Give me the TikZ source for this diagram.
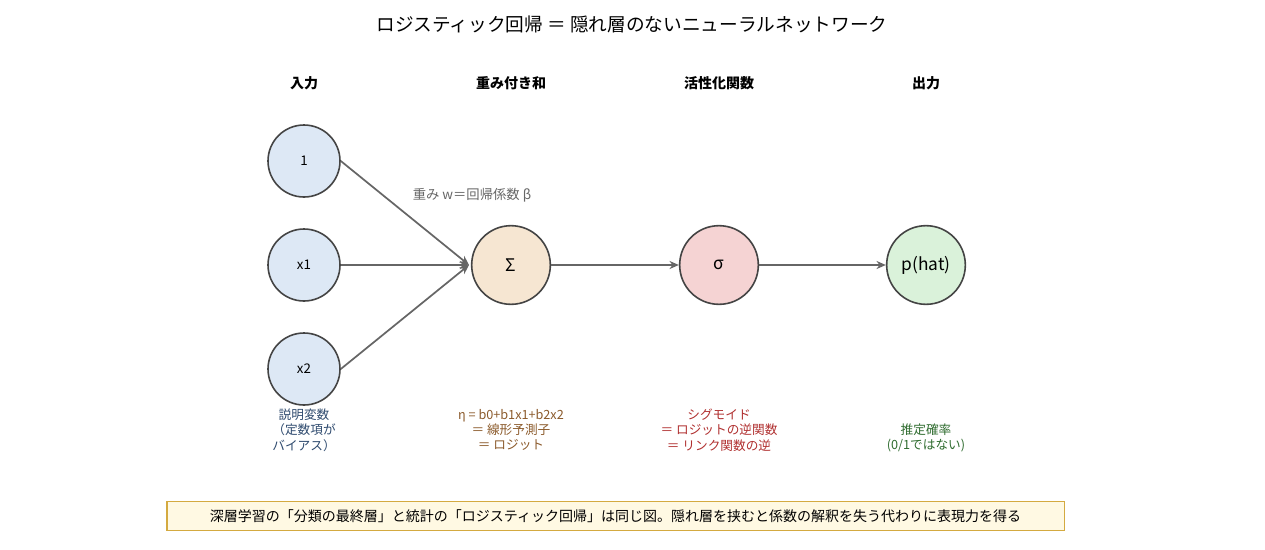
\documentclass[tikz,border=0pt]{standalone}
\usepackage{fontspec}
\setmainfont{Noto Sans CJK JP}
\usetikzlibrary{arrows.meta}
\definecolor{edge}{HTML}{444444}
\definecolor{arr}{HTML}{666666}
\definecolor{fin}{HTML}{DDE8F5}
\definecolor{fsum}{HTML}{F6E6D2}
\definecolor{fsig}{HTML}{F5D3D3}
\definecolor{fout}{HTML}{DAF2DA}
\definecolor{tblue}{HTML}{2E4A6E}
\definecolor{tbrown}{HTML}{8B5A2B}
\definecolor{tred}{HTML}{B03030}
\definecolor{tgreen}{HTML}{2E6B2E}
\definecolor{nbd}{HTML}{D4AA40}
\definecolor{nfill}{HTML}{FFF9E3}
\begin{document}
\begin{tikzpicture}[x=0.75pt,y=-0.75pt,
 inp/.style={circle,draw=edge,line width=1.2pt,fill=#1,minimum size=54pt,inner sep=0pt,font=\fontsize{10}{12}\selectfont},
 big/.style={circle,draw=edge,line width=1.2pt,fill=#1,minimum size=59pt,inner sep=0pt,font=\fontsize{13}{15}\selectfont},
 hd/.style={font=\fontsize{10.5}{12}\selectfont\bfseries},
 lab/.style={font=\fontsize{9.5}{11.5}\selectfont,align=center,text=#1},
 ar/.style={draw=arr,line width=1.3pt,-{Stealth[length=7pt,width=6pt]}}]
\useasboundingbox (0,0) rectangle (1265,550);
\node (title) at (632,24) {\fontsize{14}{16}\selectfont ロジスティック回帰 ＝ 隠れ層のないニューラルネットワーク};
\node[hd] (h1) at (304,83) {入力};
\node[hd] (h2) at (511,83) {重み付き和};
\node[hd] (h3) at (719,83) {活性化関数};
\node[hd] (h4) at (926,83) {出力};
\node[inp=fin] (c1) at (304,161) {1};
\node[inp=fin] (x1) at (304,265) {x1};
\node[inp=fin] (x2) at (304,369) {x2};
\node[big=fsum] (sum) at (511,265) {Σ};
\node[big=fsig] (sig) at (719,265) {σ};
\node[big=fout] (out) at (926,265) {p(hat)};
\coordinate (sin) at (469,265);
\draw[ar] (c1.east) -- (sin);
\draw[ar] (x1.east) -- (sin);
\draw[ar] (x2.east) -- (sin);
\draw[ar] (sum) -- (sig);
\draw[ar] (sig) -- (out);
\node[font=\fontsize{10}{12}\selectfont,text=arr] (w) at (472,195) {重み w＝回帰係数 β};
\node[lab=tblue] (l1) at (304,430) {説明変数\\（定数項が\\バイアス）};
\node[lab=tbrown] (l2) at (511,430) {η = b0+b1x1+b2x2\\＝ 線形予測子\\＝ ロジット};
\node[lab=tred] (l3) at (719,430) {シグモイド\\＝ ロジットの逆関数\\＝ リンク関数の逆};
\node[lab=tgreen] (l4) at (926,438) {推定確率\\(0/1ではない)};
\node[draw=nbd,line width=1pt,fill=nfill,minimum width=673pt,minimum height=22pt,font=\fontsize{10.5}{12}\selectfont] (note) at (615.5,516) {深層学習の「分類の最終層」と統計の「ロジスティック回帰」は同じ図。隠れ層を挟むと係数の解釈を失う代わりに表現力を得る};
\end{tikzpicture}
\end{document}
